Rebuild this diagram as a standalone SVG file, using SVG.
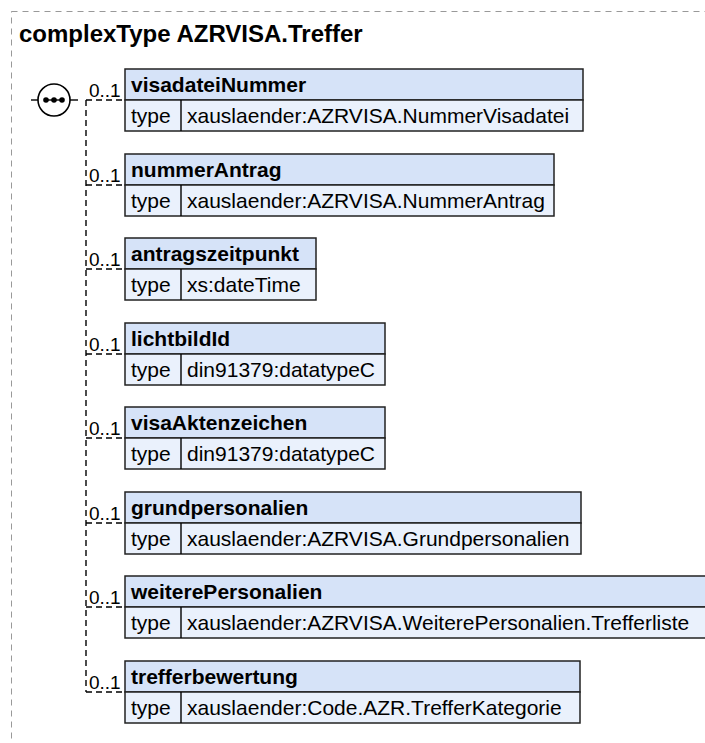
<svg xmlns="http://www.w3.org/2000/svg" width="705" height="743" viewBox="0 0 705 743">
<defs>
<style>
.bg{fill:#ffffff}
.frame{fill:none;stroke:#999999;stroke-width:1;stroke-dasharray:6,5}
.title{font-family:"Liberation Sans",Arial,sans-serif;font-weight:bold;font-size:24px;fill:#000}
.hdr{fill:#d6e3f8;stroke:#222;stroke-width:1.5}
.row{fill:#eaf1fc;stroke:#222;stroke-width:1.5}
.name{font-family:"Liberation Sans",Arial,sans-serif;font-weight:bold;font-size:21px;fill:#000}
.txt{font-family:"Liberation Sans",Arial,sans-serif;font-size:21px;fill:#000}
.card{font-family:"Liberation Sans",Arial,sans-serif;font-size:19px;fill:#000}
.dash{fill:none;stroke:#000;stroke-width:1.4;stroke-dasharray:6,4}
.solid{fill:none;stroke:#000;stroke-width:1.4}
</style>
</defs>
<rect class="bg" x="0" y="0" width="705" height="743"/>
<rect class="frame" x="11.5" y="11.5" width="720" height="760"/>
<text class="title" x="19" y="42">complexType AZRVISA.Treffer</text>

<g id="sequence">
<line class="solid" x1="31" y1="100" x2="38" y2="100"/>
<circle cx="54" cy="100" r="16" fill="#fff" stroke="#000" stroke-width="1.6"/>
<line class="solid" x1="46" y1="100" x2="62" y2="100"/>
<circle cx="46" cy="100" r="2.8" fill="#000"/>
<circle cx="54" cy="100" r="2.8" fill="#000"/>
<circle cx="62" cy="100" r="2.8" fill="#000"/>
<line class="solid" x1="70" y1="100" x2="78" y2="100"/>
</g>

<g id="connectors">
<line class="dash" x1="86" y1="100" x2="86" y2="692"/>
<line class="dash" x1="86" y1="100" x2="125" y2="100"/>
<line class="dash" x1="86" y1="185" x2="125" y2="185"/>
<line class="dash" x1="86" y1="269" x2="125" y2="269"/>
<line class="dash" x1="86" y1="354" x2="125" y2="354"/>
<line class="dash" x1="86" y1="438" x2="125" y2="438"/>
<line class="dash" x1="86" y1="523" x2="125" y2="523"/>
<line class="dash" x1="86" y1="607" x2="125" y2="607"/>
<line class="dash" x1="86" y1="692" x2="125" y2="692"/>
<text class="card" x="89" y="97">0..1</text>
<text class="card" x="89" y="182">0..1</text>
<text class="card" x="89" y="266">0..1</text>
<text class="card" x="89" y="351">0..1</text>
<text class="card" x="89" y="435">0..1</text>
<text class="card" x="89" y="520">0..1</text>
<text class="card" x="89" y="604">0..1</text>
<text class="card" x="89" y="689">0..1</text>
</g>

<g id="visadateiNummer">
<rect class="hdr" x="125" y="69" width="458" height="31"/>
<rect class="row" x="125" y="100" width="458" height="31"/>
<line class="solid" x1="181" y1="100" x2="181" y2="131"/>
<text class="name" x="131" y="92">visadateiNummer</text>
<text class="txt" x="131" y="123">type</text>
<text class="txt" x="187" y="123">xauslaender:AZRVISA.NummerVisadatei</text>
</g>

<g id="nummerAntrag">
<rect class="hdr" x="125" y="154" width="429" height="31"/>
<rect class="row" x="125" y="185" width="429" height="31"/>
<line class="solid" x1="181" y1="185" x2="181" y2="216"/>
<text class="name" x="131" y="177">nummerAntrag</text>
<text class="txt" x="131" y="208">type</text>
<text class="txt" x="187" y="208">xauslaender:AZRVISA.NummerAntrag</text>
</g>

<g id="antragszeitpunkt">
<rect class="hdr" x="125" y="238" width="191" height="31"/>
<rect class="row" x="125" y="269" width="191" height="31"/>
<line class="solid" x1="181" y1="269" x2="181" y2="300"/>
<text class="name" x="131" y="261">antragszeitpunkt</text>
<text class="txt" x="131" y="292">type</text>
<text class="txt" x="187" y="292">xs:dateTime</text>
</g>

<g id="lichtbildId">
<rect class="hdr" x="125" y="323" width="260" height="31"/>
<rect class="row" x="125" y="354" width="260" height="31"/>
<line class="solid" x1="181" y1="354" x2="181" y2="385"/>
<text class="name" x="131" y="346">lichtbildId</text>
<text class="txt" x="131" y="377">type</text>
<text class="txt" x="187" y="377">din91379:datatypeC</text>
</g>

<g id="visaAktenzeichen">
<rect class="hdr" x="125" y="407" width="260" height="31"/>
<rect class="row" x="125" y="438" width="260" height="31"/>
<line class="solid" x1="181" y1="438" x2="181" y2="469"/>
<text class="name" x="131" y="430">visaAktenzeichen</text>
<text class="txt" x="131" y="461">type</text>
<text class="txt" x="187" y="461">din91379:datatypeC</text>
</g>

<g id="grundpersonalien">
<rect class="hdr" x="125" y="492" width="456" height="31"/>
<rect class="row" x="125" y="523" width="456" height="31"/>
<line class="solid" x1="181" y1="523" x2="181" y2="554"/>
<text class="name" x="131" y="515">grundpersonalien</text>
<text class="txt" x="131" y="546">type</text>
<text class="txt" x="187" y="546">xauslaender:AZRVISA.Grundpersonalien</text>
</g>

<g id="weiterePersonalien">
<rect class="hdr" x="125" y="576" width="582" height="31"/>
<rect class="row" x="125" y="607" width="582" height="31"/>
<line class="solid" x1="181" y1="607" x2="181" y2="638"/>
<text class="name" x="131" y="599">weiterePersonalien</text>
<text class="txt" x="131" y="630">type</text>
<text class="txt" x="187" y="630">xauslaender:AZRVISA.WeiterePersonalien.Trefferliste</text>
</g>

<g id="trefferbewertung">
<rect class="hdr" x="125" y="661" width="455" height="31"/>
<rect class="row" x="125" y="692" width="455" height="31"/>
<line class="solid" x1="181" y1="692" x2="181" y2="723"/>
<text class="name" x="131" y="684">trefferbewertung</text>
<text class="txt" x="131" y="715">type</text>
<text class="txt" x="187" y="715">xauslaender:Code.AZR.TrefferKategorie</text>
</g>
</svg>
